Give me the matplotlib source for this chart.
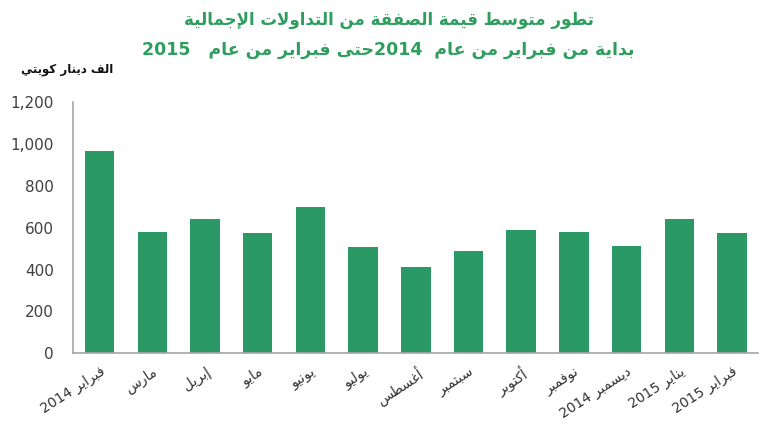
import matplotlib
matplotlib.use("Agg")
import matplotlib.pyplot as plt
import re

# ---------------- data ----------------
categories = ["فبراير 2014", "مارس", "إبريل", "مايو", "يونيو", "يوليو", "أغسطس",
              "سبتمبر", "أكتوبر", "نوفمبر", "ديسمبر 2014", "يناير 2015", "فبراير 2015"]
values = [966, 578, 642, 575, 700, 507, 410, 488, 588, 580, 513, 639, 575]
title_line1 = "تطور متوسط قيمة الصفقة من التداولات الإجمالية"
title_line2 = "بداية من فبراير من عام  2014حتى فبراير من عام   2015"
y_unit = "الف دينار كويتي"
y_ticks = [0, 200, 400, 600, 800, 1000, 1200]

# ---------------- simple Arabic shaping ----------------
FORMS = {
    '\u0621': ('\uFE80', None, None, None),
    '\u0622': ('\uFE81', '\uFE82', None, None),
    '\u0623': ('\uFE83', '\uFE84', None, None),
    '\u0624': ('\uFE85', '\uFE86', None, None),
    '\u0625': ('\uFE87', '\uFE88', None, None),
    '\u0626': ('\uFE89', '\uFE8A', '\uFE8B', '\uFE8C'),
    '\u0627': ('\uFE8D', '\uFE8E', None, None),
    '\u0628': ('\uFE8F', '\uFE90', '\uFE91', '\uFE92'),
    '\u0629': ('\uFE93', '\uFE94', None, None),
    '\u062A': ('\uFE95', '\uFE96', '\uFE97', '\uFE98'),
    '\u062B': ('\uFE99', '\uFE9A', '\uFE9B', '\uFE9C'),
    '\u062C': ('\uFE9D', '\uFE9E', '\uFE9F', '\uFEA0'),
    '\u062D': ('\uFEA1', '\uFEA2', '\uFEA3', '\uFEA4'),
    '\u062E': ('\uFEA5', '\uFEA6', '\uFEA7', '\uFEA8'),
    '\u062F': ('\uFEA9', '\uFEAA', None, None),
    '\u0630': ('\uFEAB', '\uFEAC', None, None),
    '\u0631': ('\uFEAD', '\uFEAE', None, None),
    '\u0632': ('\uFEAF', '\uFEB0', None, None),
    '\u0633': ('\uFEB1', '\uFEB2', '\uFEB3', '\uFEB4'),
    '\u0634': ('\uFEB5', '\uFEB6', '\uFEB7', '\uFEB8'),
    '\u0635': ('\uFEB9', '\uFEBA', '\uFEBB', '\uFEBC'),
    '\u0636': ('\uFEBD', '\uFEBE', '\uFEBF', '\uFEC0'),
    '\u0637': ('\uFEC1', '\uFEC2', '\uFEC3', '\uFEC4'),
    '\u0638': ('\uFEC5', '\uFEC6', '\uFEC7', '\uFEC8'),
    '\u0639': ('\uFEC9', '\uFECA', '\uFECB', '\uFECC'),
    '\u063A': ('\uFECD', '\uFECE', '\uFECF', '\uFED0'),
    '\u0641': ('\uFED1', '\uFED2', '\uFED3', '\uFED4'),
    '\u0642': ('\uFED5', '\uFED6', '\uFED7', '\uFED8'),
    '\u0643': ('\uFED9', '\uFEDA', '\uFEDB', '\uFEDC'),
    '\u0644': ('\uFEDD', '\uFEDE', '\uFEDF', '\uFEE0'),
    '\u0645': ('\uFEE1', '\uFEE2', '\uFEE3', '\uFEE4'),
    '\u0646': ('\uFEE5', '\uFEE6', '\uFEE7', '\uFEE8'),
    '\u0647': ('\uFEE9', '\uFEEA', '\uFEEB', '\uFEEC'),
    '\u0648': ('\uFEED', '\uFEEE', None, None),
    '\u0649': ('\uFEEF', '\uFEF0', None, None),
    '\u064A': ('\uFEF1', '\uFEF2', '\uFEF3', '\uFEF4'),
}
LAM_ALEF = {'\u0622': ('\uFEF5', '\uFEF6'), '\u0623': ('\uFEF7', '\uFEF8'),
            '\u0625': ('\uFEF9', '\uFEFA'), '\u0627': ('\uFEFB', '\uFEFC')}


def shape(text):
    tokens = []
    i = 0
    while i < len(text):
        c = text[i]
        if c == '\u0644' and i + 1 < len(text) and text[i + 1] in LAM_ALEF:
            iso, fin = LAM_ALEF[text[i + 1]]
            tokens.append((iso, fin, None, None))
            i += 2
            continue
        tokens.append(FORMS.get(c, c))
        i += 1
    out = []
    for k, t in enumerate(tokens):
        if isinstance(t, str):
            out.append(t)
            continue
        prev = tokens[k - 1] if k > 0 else None
        nxt = tokens[k + 1] if k + 1 < len(tokens) else None
        jp = isinstance(prev, tuple) and prev[2] is not None and t[1] is not None
        jn = t[2] is not None and isinstance(nxt, tuple) and nxt[1] is not None
        if jp and jn:
            out.append(t[3])
        elif jp:
            out.append(t[1])
        elif jn:
            out.append(t[2])
        else:
            out.append(t[0])
    s = ''.join(out)[::-1]
    s = re.sub(r'[0-9][0-9,.]*', lambda m: m.group(0)[::-1], s)
    return s


# ---------------- plot ----------------
plt.rcParams['font.family'] = ['DejaVu Sans']
green_bar = '#2A9966'
green_title = '#2E9E5E'

fig = plt.figure(figsize=(7.7, 4.26), dpi=100)
ax = fig.add_axes([0.0952, 0.1707, 0.8896, 0.5899])

x = list(range(len(values)))
ax.bar(x, values, width=0.56, color=green_bar)
ax.set_xlim(-0.5, len(values) - 0.5)
ax.set_ylim(0, 1200)
ax.set_yticks(y_ticks)
ax.set_yticklabels([f"{v:,}" for v in y_ticks], fontsize=11, color='#404040')
ax.set_xticks(x)
ax.set_xticklabels([shape(c) for c in categories], rotation=33, ha='right',
                   rotation_mode='anchor', fontsize=10, color='#333333')
ax.tick_params(axis='y', length=0, pad=14)
ax.tick_params(axis='x', length=0, pad=8)
for s in ['top', 'right']:
    ax.spines[s].set_visible(False)
for s in ['left', 'bottom']:
    ax.spines[s].set_color('#A6A6A6')
    ax.spines[s].set_linewidth(1.2)

fig.text(0.505, 0.953, shape(title_line1), ha='center', va='center',
         fontsize=12, fontweight='bold', color=green_title)
fig.text(0.504, 0.882, shape(title_line2), ha='center', va='center',
         fontsize=12.5, fontweight='bold', color=green_title)
fig.text(0.087, 0.836, shape(y_unit), ha='center', va='center',
         fontsize=8.5, fontweight='bold', color='#111111')

fig.savefig('out.png', dpi=100)
